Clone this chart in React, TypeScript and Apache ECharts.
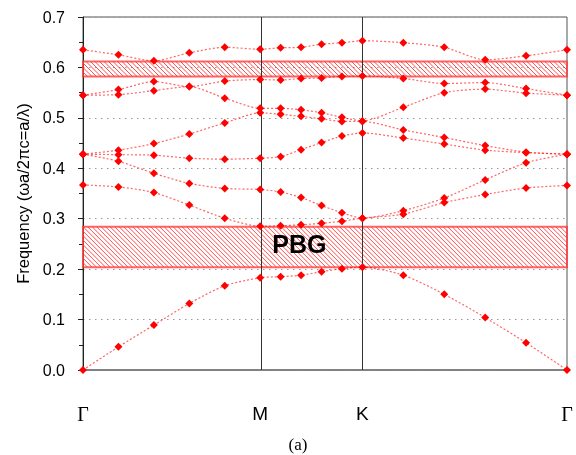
import React, { useEffect, useRef } from "react";
import * as echarts from "echarts";

// k-path coordinates (Γ → M → K → Γ)
const kx = [0, 0.1155, 0.2309, 0.3464, 0.4619, 0.5774, 0.644, 0.7107, 0.7774, 0.844, 0.9107, 1.044, 1.1774, 1.3107, 1.444, 1.5774];
const kM = 0.5774;
const kK = 0.9107;
const kEnd = 1.5774;

const band1 = [0, 0.046, 0.089, 0.132, 0.167, 0.183, 0.185, 0.188, 0.195, 0.201, 0.204, 0.188, 0.15, 0.104, 0.054, 0];
const band2 = [0.367, 0.363, 0.352, 0.327, 0.301, 0.285, 0.286, 0.288, 0.291, 0.295, 0.301, 0.309, 0.332, 0.348, 0.361, 0.366];
const band3 = [0.428, 0.414, 0.39, 0.37, 0.36, 0.358, 0.353, 0.342, 0.326, 0.312, 0.301, 0.316, 0.341, 0.377, 0.411, 0.428];
const band4 = [0.428, 0.427, 0.426, 0.42, 0.418, 0.42, 0.423, 0.437, 0.451, 0.464, 0.47, 0.46, 0.448, 0.436, 0.431, 0.428];
const band5 = [0.428, 0.436, 0.449, 0.468, 0.49, 0.51, 0.507, 0.503, 0.498, 0.493, 0.493, 0.476, 0.461, 0.445, 0.432, 0.428];
const band6 = [0.545, 0.546, 0.554, 0.562, 0.539, 0.519, 0.519, 0.516, 0.51, 0.501, 0.494, 0.521, 0.55, 0.557, 0.549, 0.545];
const band7 = [0.545, 0.556, 0.572, 0.562, 0.573, 0.576, 0.575, 0.578, 0.579, 0.582, 0.583, 0.578, 0.568, 0.57, 0.558, 0.545];
const band8 = [0.635, 0.625, 0.613, 0.629, 0.64, 0.636, 0.639, 0.64, 0.646, 0.649, 0.653, 0.649, 0.64, 0.615, 0.623, 0.635];
const bands = [band1, band2, band3, band4, band5, band6, band7, band8];

// band gaps [low, high]
const gaps = [
  [0.204, 0.284],
  [0.582, 0.612],
];
const pbgLabel = [0.705, 0.249];

const xTickValues = [0, kM, kK, kEnd];
const xTickNames = ["Γ", "M", "K", "Γ"];

export default function App() {
  const ref = useRef<HTMLDivElement>(null);
  useEffect(() => {
    if (!ref.current) return;
    const chart = echarts.init(ref.current, undefined, { renderer: "svg" });
    const bandSeries = bands.map((b, bi) => ({
      type: "line",
      name: "band" + (bi + 1),
      data: kx.map((x, i) => [x, b[i]]),
      symbol: "diamond",
      symbolSize: 8,
      smooth: 0.25,
      z: 5,
      itemStyle: { color: "#ff0000" },
      lineStyle: { color: "rgba(255,0,0,0.6)", width: 1.2, type: [2, 2] },
      ...(bi === 0
        ? {
            markLine: {
              silent: true,
              symbol: ["none", "none"],
              label: { show: false },
              lineStyle: { color: "#333", width: 1, type: "solid" },
              data: [{ xAxis: kM }, { xAxis: kK }],
            },
          }
        : {}),
    }));

    chart.setOption({
      animation: false,
      grid: {
        left: 83,
        right: 9,
        top: 17,
        bottom: 85,
        show: true,
        borderColor: "#555",
        borderWidth: 1,
      },
      xAxis: {
        type: "value",
        min: 0,
        max: kEnd,
        axisLine: { show: true, lineStyle: { color: "#777", width: 1.5 } },
        axisTick: { show: false },
        splitLine: { show: false },
        axisLabel: {
          customValues: xTickValues,
          showMinLabel: true,
          showMaxLabel: true,
          margin: 34,
          fontSize: 19,
          fontFamily: "Liberation Sans, Arial, sans-serif",
          color: "#000",
          formatter: (v: number) => {
            let idx = 0;
            xTickValues.forEach((t, i) => {
              if (Math.abs(t - v) < 1e-6) idx = i;
            });
            const n = xTickNames[idx];
            return n === "Γ" ? "{g|Γ}" : n;
          },
          rich: {
            g: { fontFamily: "Liberation Serif, Times New Roman, serif", fontSize: 20, color: "#000" },
          },
        },
      },
      yAxis: {
        type: "value",
        min: 0,
        max: 0.7,
        interval: 0.1,
        name: "Frequency (ωa/2πc=a/λ)",
        nameLocation: "middle",
        nameGap: 49,
        nameTextStyle: { fontSize: 16.5, fontFamily: "Liberation Sans, Arial, sans-serif", color: "#000" },
        axisLine: { show: true, lineStyle: { color: "#222", width: 1 } },
        axisTick: { show: true, length: 5, lineStyle: { color: "#222" } },
        minorTick: { show: true, splitNumber: 2, length: 4, lineStyle: { color: "#222" } },
        axisLabel: {
          margin: 18,
          fontSize: 16,
          fontFamily: "Liberation Sans, Arial, sans-serif",
          color: "#000",
          formatter: (v: number) => v.toFixed(1),
        },
        splitLine: { show: true, lineStyle: { color: "#999", width: 1, type: [1.5, 4.5] } },
      },
      series: [
        {
          type: "custom",
          name: "gaps",
          data: gaps,
          z: 1,
          clip: false,
          renderItem: (params: any, api: any) => {
            const lo = api.value(0);
            const hi = api.value(1);
            const cs = params.coordSys;
            const left = cs.x;
            const right = cs.x + cs.width;
            const top = api.coord([0, hi])[1];
            const bottom = api.coord([0, lo])[1];
            const h = bottom - top;
            const step = 4.5;
            const children: any[] = [];
            for (let c = left - h; c < right; c += step) {
              let x1 = c, y1 = top, x2 = c + h, y2 = bottom;
              if (x1 < left) {
                y1 = top + (left - x1);
                x1 = left;
              }
              if (x2 > right) {
                y2 = bottom - (x2 - right);
                x2 = right;
              }
              if (x2 <= x1) continue;
              children.push({
                type: "line",
                shape: { x1, y1, x2, y2 },
                style: { stroke: "rgba(255,0,0,0.7)", lineWidth: 1 },
              });
            }
            children.push({
              type: "rect",
              shape: { x: left, y: top, width: right - left, height: h },
              style: { fill: "none", stroke: "rgba(255,60,60,0.8)", lineWidth: 2 },
            });
            return { type: "group", children };
          },
        },
        ...bandSeries,
        {
          type: "scatter",
          name: "PBG",
          data: [pbgLabel],
          symbolSize: 0,
          z: 6,
          label: {
            show: true,
            position: "inside",
            formatter: "PBG",
            fontSize: 25,
            fontWeight: "bold",
            fontFamily: "Liberation Sans, Arial, sans-serif",
            color: "#000",
            opacity: 1,
          },
        },
      ],
      graphic: [
        {
          type: "text",
          x: 298,
          y: 444,
          style: {
            text: "(a)",
            fontSize: 17,
            fontFamily: "Liberation Serif, Times New Roman, serif",
            fill: "#000",
            textAlign: "center",
            textVerticalAlign: "middle",
          },
        },
      ],
    });
    return () => chart.dispose();
  }, []);
  return <div ref={ref} style={{ position: "fixed", left: 0, top: 0, width: 576, height: 455 }} />;
}
